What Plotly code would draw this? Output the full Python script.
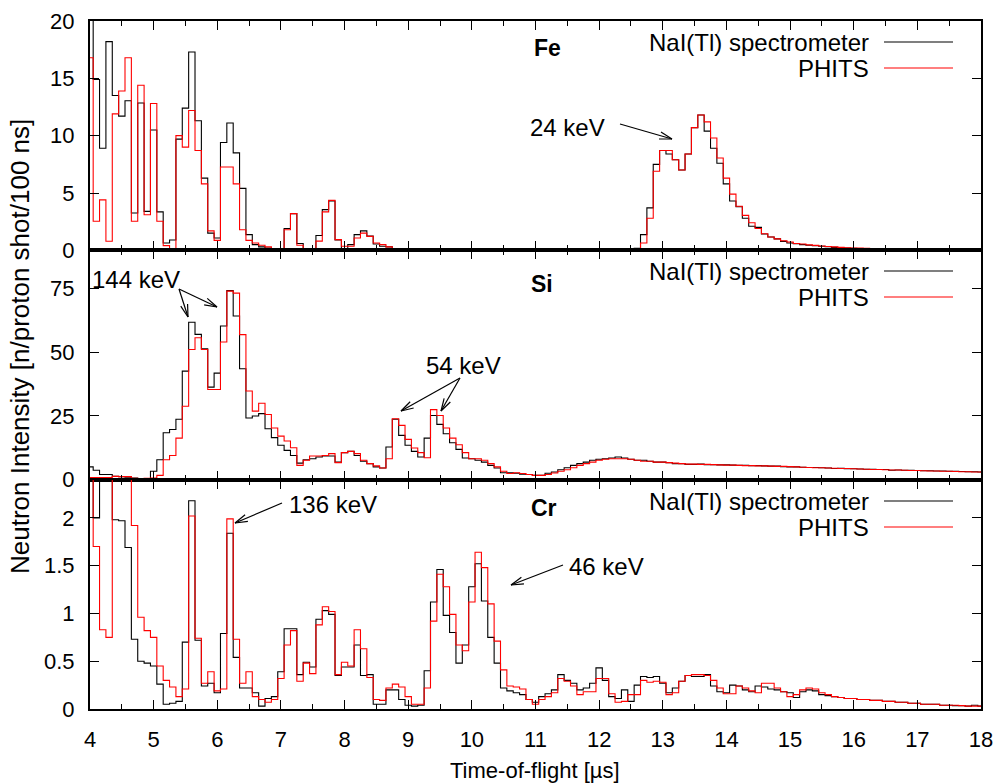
import math
import numpy as np
import plotly.graph_objects as go
from plotly.subplots import make_subplots

# bin centres (time-of-flight, microseconds), 100 ns bins
tof = np.round(np.arange(40, 181) / 10.0, 1)

fe_nai = [22, 14.9, 8.9, 18.2, 13.5, 11.7, 13.05, 3.26, 12.85, 3.4,
          10.5, 3.35, 0.64, 0.9, 9.7, 12.4, 17.3, 11.3, 6.3, 1.5,
          1.08, 9.4, 11.1, 8.5, 5.4, 1.37, 0.5, 0.3, 0.2, 0.12,
          0.05, 1.9, 3.2, 0.6, 0.1, 0.1, 1.3, 3.55, 4.3, 0.9,
          0.1, 0.5, 1.37, 1.7, 1.25, 0.55, 0.35, 0.3, 0.1, 0.08,
          0.05, 0.04, 0.05, 0.03, 0.04, 0.03, 0.03, 0.04, 0.03, 0.03,
          0.03, 0.02, 0.03, 0.02, 0.03, 0.02, 0.02, 0.03, 0.02, 0.02,
          0.03, 0.02, 0.02, 0.03, 0.03, 0.04, 0.03, 0.04, 0.05, 0.05,
          0.06, 0.08, 0.12, 0.08, 0.1, 0.12, 0.17, 1.37, 3.7, 7.5,
          8.7, 8.4, 7.9, 7.0, 8.4, 10.7, 11.8, 10.4, 8.9, 7.6,
          5.8, 4.3, 3.8, 2.8, 2.1, 2.0, 1.42, 1.16, 1.0, 0.78,
          0.64, 0.58, 0.5, 0.44, 0.4, 0.35, 0.32, 0.26, 0.23, 0.2,
          0.18, 0.16, 0.15, 0.13, 0.12, 0.12, 0.11, 0.1, 0.1, 0.09,
          0.09, 0.08, 0.08, 0.07, 0.07, 0.06, 0.06, 0.06, 0.05, 0.05,
          0.05]
fe_phits = [16.8, 2.53, 4.4, 0.79, 11.9, 13.9, 16.8, 2.53, 14.4, 3.1,
            12.8, 2.53, 0.41, 0.15, 10.0, 9.0, 12.2, 8.7, 5.8, 1.7,
            0.87, 7.27, 7.27, 5.8, 1.8, 0.87, 0.64, 0.44, 0.3, 0.1,
            0.08, 1.8, 3.2, 0.44, 0.1, 0.1, 0.8, 3.35, 4.36, 0.93,
            0.35, 0.35, 1.07, 1.5, 1.22, 0.64, 0.5, 0.3, 0.1, 0.08,
            0.05, 0.05, 0.04, 0.04, 0.03, 0.04, 0.03, 0.03, 0.03, 0.02,
            0.02, 0.03, 0.02, 0.02, 0.02, 0.03, 0.02, 0.02, 0.02, 0.02,
            0.02, 0.03, 0.02, 0.02, 0.03, 0.03, 0.03, 0.04, 0.04, 0.05,
            0.05, 0.06, 0.07, 0.08, 0.09, 0.1, 0.12, 0.64, 2.8, 6.9,
            8.7, 8.7, 7.9, 7.0, 8.4, 10.7, 11.8, 11.2, 9.8, 8.05,
            6.3, 4.9, 3.84, 3.05, 2.4, 1.9, 1.45, 1.16, 1.0, 0.84,
            0.73, 0.6, 0.55, 0.48, 0.43, 0.38, 0.34, 0.3, 0.26, 0.23,
            0.21, 0.19, 0.17, 0.15, 0.14, 0.13, 0.12, 0.11, 0.1, 0.1,
            0.09, 0.09, 0.08, 0.08, 0.07, 0.07, 0.06, 0.06, 0.06, 0.05,
            0.05]
si_nai = [5.0, 3.7, 2.0, 2.0, 1.3, 1.2, 1.0, 0.6, 0.4, 0.4,
          3.3, 7.8, 18.4, 19.7, 23.7, 42.6, 61.8, 57.0, 51.4, 36.3,
          41.8, 60.3, 74.2, 64.2, 43.5, 24.2, 25.0, 25.9, 20.0, 16.5,
          13.5, 11.5, 9.5, 6.5, 7.8, 8.2, 8.9, 9.3, 9.3, 6.9,
          10.6, 11.1, 9.5, 7.2, 6.3, 5.0, 4.6, 12.8, 23.7, 17.4,
          13.5, 11.1, 8.9, 16.3, 25.2, 21.7, 18.0, 14.5, 11.9, 8.5,
          8.2, 7.6, 6.9, 5.6, 4.6, 2.7, 2.7, 2.5, 2.1, 2.0,
          1.7, 1.7, 2.5, 3.0, 3.9, 4.7, 5.6, 6.3, 6.9, 7.6,
          8.0, 8.2, 8.5, 8.9, 8.5, 8.0, 7.6, 7.6, 7.2, 6.9,
          6.9, 6.7, 6.3, 6.3, 6.0, 6.0, 6.1, 5.9, 5.9, 5.8,
          5.8, 5.7, 5.6, 5.6, 5.5, 5.5, 5.4, 5.3, 5.3, 5.1,
          5.0, 5.0, 4.9, 4.8, 4.8, 4.7, 4.6, 4.4, 4.5, 4.3,
          4.3, 4.2, 4.1, 4.1, 4.0, 4.0, 3.7, 3.8, 3.7, 3.7,
          3.6, 3.5, 3.5, 3.4, 3.4, 3.3, 3.3, 3.2, 3.1, 3.1,
          3.0]
si_phits = [0.8, 0.8, 0.8, 0.8, 1.3, 1.2, 1.2, 0.5, 0.4, 0.5,
            0.65, 1.7, 7.8, 9.5, 16.3, 28.8, 51.1, 55.7, 51.1, 35.4,
            35.4, 54.0, 74.0, 73.2, 56.9, 34.8, 26.9, 30.0, 25.6, 20.3,
            17.1, 15.2, 12.5, 5.6, 7.6, 9.3, 9.3, 9.5, 10.2, 6.7,
            10.6, 11.1, 10.2, 7.6, 6.3, 5.4, 4.6, 8.2, 23.9, 21.3,
            15.8, 12.4, 10.6, 8.6, 27.5, 25.2, 20.3, 16.3, 13.7, 10.6,
            8.2, 8.2, 7.6, 6.3, 5.0, 3.3, 2.4, 2.7, 2.4, 2.0,
            1.7, 1.7, 2.0, 2.6, 3.3, 3.9, 4.7, 5.6, 6.3, 6.9,
            7.6, 8.0, 8.2, 8.2, 8.2, 8.0, 7.6, 7.2, 7.2, 6.9,
            6.9, 6.7, 6.5, 6.3, 6.1, 6.1, 6.0, 6.0, 5.9, 5.8,
            5.7, 5.7, 5.6, 5.5, 5.5, 5.4, 5.4, 5.3, 5.2, 5.2,
            5.1, 5.0, 4.9, 4.8, 4.7, 4.7, 4.6, 4.5, 4.4, 4.4,
            4.3, 4.2, 4.1, 4.0, 4.0, 3.9, 3.8, 3.8, 3.7, 3.6,
            3.6, 3.5, 3.4, 3.4, 3.3, 3.3, 3.2, 3.1, 3.1, 3.0,
            3.0]
cr_nai = [2.6, 2.0, 2.6, 2.6, 1.98, 1.97, 1.69, 0.73, 0.5, 0.48,
          0.45, 0.26, 0.05, 0.06, 0.08, 0.7, 2.18, 0.72, 0.24, 0.27,
          0.17, 0.79, 1.84, 0.54, 0.22, 0.22, 0.17, 0.03, 0.11, 0.13,
          0.39, 0.84, 0.84, 0.36, 0.49, 0.44, 0.94, 1.03, 0.99, 0.35,
          0.44, 0.44, 0.67, 0.35, 0.36, 0.05, 0.05, 0.2, 0.2, 0.1,
          0.04, 0.03, 0.04, 0.4, 1.12, 1.46, 0.98, 0.8, 0.48, 0.67,
          1.28, 1.52, 1.13, 0.75, 0.48, 0.22, 0.19, 0.17, 0.15, 0.1,
          0.07, 0.13, 0.16, 0.2, 0.36, 0.3, 0.27, 0.2, 0.22, 0.27,
          0.43, 0.3, 0.13, 0.11, 0.2, 0.08, 0.25, 0.34, 0.33, 0.34,
          0.27, 0.17, 0.22, 0.29, 0.35, 0.34, 0.34, 0.36, 0.24, 0.18,
          0.17, 0.25, 0.24, 0.2, 0.18, 0.24, 0.23, 0.21, 0.2, 0.18,
          0.17, 0.12, 0.18, 0.2, 0.19, 0.15, 0.14, 0.13, 0.12, 0.11,
          0.11, 0.1, 0.1, 0.09, 0.09, 0.08, 0.08, 0.07, 0.07, 0.06,
          0.06, 0.05, 0.05, 0.05, 0.04, 0.04, 0.035, 0.035, 0.03, 0.04,
          0.03]
cr_phits = [2.6, 1.7, 0.83, 0.75, 2.6, 2.6, 2.6, 1.92, 0.96, 0.82,
            0.75, 0.45, 0.3, 0.23, 0.13, 0.21, 2.02, 0.74, 0.27, 0.39,
            0.19, 0.21, 1.99, 0.73, 0.27, 0.39, 0.13, 0.1, 0.07, 0.1,
            0.32, 0.67, 0.82, 0.29, 0.48, 0.37, 0.88, 1.07, 1.02, 0.36,
            0.49, 0.45, 0.83, 0.63, 0.33, 0.1, 0.09, 0.22, 0.26, 0.23,
            0.13, 0.05, 0.05, 0.22, 0.92, 1.41, 1.28, 0.99, 0.67, 0.61,
            1.12, 1.64, 1.48, 1.1, 0.71, 0.41, 0.24, 0.23, 0.21, 0.1,
            0.05, 0.1, 0.13, 0.17, 0.32, 0.29, 0.24, 0.15, 0.18, 0.18,
            0.32, 0.32, 0.16, 0.07, 0.08, 0.15, 0.15, 0.3, 0.28, 0.29,
            0.28, 0.15, 0.17, 0.29, 0.35, 0.36, 0.36, 0.35, 0.3, 0.22,
            0.16, 0.16, 0.24, 0.22, 0.19, 0.17, 0.27, 0.27, 0.22, 0.18,
            0.13, 0.15, 0.2, 0.22, 0.21, 0.17, 0.15, 0.13, 0.12, 0.11,
            0.11, 0.1, 0.1, 0.09, 0.09, 0.08, 0.08, 0.07, 0.07, 0.06,
            0.06, 0.05, 0.05, 0.05, 0.04, 0.04, 0.04, 0.035, 0.03, 0.03,
            0.03]

panel_names = ["Fe", "Si", "Cr"]
series_names = ["NaI(Tl) spectrometer", "PHITS"]
y_ranges = [[0, 20], [0, 90], [0, 2.4]]
y_ticks = [[0, 5, 10, 15, 20], [0, 25, 50, 75], [0, 0.5, 1, 1.5, 2]]
y_ticktext = [["0", "5", "10", "15", "20"], ["0", "25", "50", "75"],
              ["0", "0.5", "1", "1.5", "2"]]
x_ticks = list(range(4, 19))

FONT = "Liberation Sans, Arial, Helvetica, sans-serif"
W, H = 998, 784
ML, MR, MT, MB = 90, 17, 21, 75
PW, PH = W - ML - MR, H - MT - MB


def P(px, py):
    return (px - ML) / PW, (H - MB - py) / PH


fig = make_subplots(rows=3, cols=1, shared_xaxes=True, vertical_spacing=0)
data = [(fe_nai, fe_phits), (si_nai, si_phits), (cr_nai, cr_phits)]
for i, (nai, phits) in enumerate(data):
    for vals, col, nm in ((nai, "black", series_names[0]),
                          (phits, "#ff0000", series_names[1])):
        fig.add_trace(go.Scatter(x=tof, y=vals, mode="lines", name=nm,
                                 line=dict(color=col, width=1.1, shape="hvh"),
                                 showlegend=False),
                      row=i + 1, col=1)

axis_common = dict(showline=True, linecolor="black", linewidth=2,
                   mirror="ticks", ticks="inside", ticklen=9, tickwidth=1,
                   tickcolor="black", showgrid=False, zeroline=False,
                   automargin=False,
                   tickfont=dict(family=FONT, size=22, color="black"))
for i in range(3):
    fig.update_xaxes(range=[4, 18], tickvals=x_ticks, ticktext=[str(v) for v in x_ticks],
                     minor=dict(dtick=0.5, tick0=4, ticks="inside", ticklen=5,
                                tickcolor="black", tickwidth=1),
                     ticklabelstandoff=10,
                     row=i + 1, col=1, **axis_common)
    fig.update_yaxes(range=y_ranges[i], tickvals=y_ticks[i], ticktext=y_ticktext[i],
                     ticklabelstandoff=9, row=i + 1, col=1, **axis_common)

shapes = []
annotations = []

# legends and panel labels
legend_rows = [(42, 68), (271, 297), (501, 527)]
label_pos = [(547, 48), (542, 284), (544, 508)]
for i in range(3):
    for j, (nm, col) in enumerate(zip(series_names, ["black", "#ff0000"])):
        yy = legend_rows[i][j]
        x0, y0 = P(884, yy)
        x1, _ = P(953, yy)
        shapes.append(dict(type="line", xref="paper", yref="paper", x0=x0, x1=x1,
                           y0=y0, y1=y0, line=dict(color=col, width=1.2)))
        tx, ty = P(870, yy)
        annotations.append(dict(text=nm, x=tx, y=ty, xref="paper", yref="paper",
                                xanchor="right", yanchor="middle", showarrow=False,
                                borderpad=0,
                                font=dict(family=FONT, size=24, color="black")))
    lx, ly = P(*label_pos[i])
    annotations.append(dict(text="<b>%s</b>" % panel_names[i], x=lx, y=ly,
                            xref="paper", yref="paper", xanchor="center",
                            yanchor="middle", showarrow=False,
                            font=dict(family=FONT, size=23, color="black")))

# energy labels with open-headed arrows
energy_labels = [("24 keV", (567, 127), [((620, 124), (672, 139))]),
                 ("144 keV", (136, 279), [((179, 289), (188, 317)),
                                          ((179, 289), (217, 307))]),
                 ("54 keV", (463, 365), [((460, 378), (401, 411)),
                                         ((460, 378), (441, 411))]),
                 ("136 keV", (333, 504), [((282, 503), (235, 523))]),
                 ("46 keV", (606, 566), [((563, 565), (511, 585))])]


def arrow(tail, tip, L=13, ang=16):
    (tx, ty), (hx, hy) = tail, tip
    dx, dy = tx - hx, ty - hy
    n = math.hypot(dx, dy)
    ux, uy = dx / n, dy / n
    out = []
    a0, b0 = P(tx, ty)
    a1, b1 = P(hx, hy)
    out.append(dict(type="line", xref="paper", yref="paper", x0=a0, y0=b0,
                    x1=a1, y1=b1, line=dict(color="black", width=1.2)))
    for s in (1, -1):
        c, sn = math.cos(math.radians(ang)), math.sin(math.radians(s * ang))
        bx = hx + L * (ux * c - uy * sn)
        by = hy + L * (ux * sn + uy * c)
        a2, b2 = P(bx, by)
        out.append(dict(type="line", xref="paper", yref="paper", x0=a1, y0=b1,
                        x1=a2, y1=b2, line=dict(color="black", width=1.2)))
    return out


for txt, (cx, cy), arrs in energy_labels:
    ax_, ay_ = P(cx, cy)
    annotations.append(dict(text=txt, x=ax_, y=ay_, xref="paper", yref="paper",
                            xanchor="center", yanchor="middle", showarrow=False,
                            font=dict(family=FONT, size=24, color="black")))
    for tail, tip in arrs:
        shapes.extend(arrow(tail, tip))

# axis titles
yx, yy = P(20, 347)
annotations.append(dict(text="Neutron Intensity [n/proton shot/100 ns]", x=yx, y=yy,
                        xref="paper", yref="paper", textangle=-90, xanchor="center",
                        yanchor="middle", showarrow=False,
                        font=dict(family=FONT, size=26, color="black")))
xx, xy = P(535, 770)
annotations.append(dict(text="Time-of-flight [\u00b5s]", x=xx, y=xy, xref="paper",
                        yref="paper", xanchor="center", yanchor="middle",
                        showarrow=False, font=dict(family=FONT, size=22, color="black")))

fig.update_layout(width=W, height=H, margin=dict(l=ML, r=MR, t=MT, b=MB),
                  paper_bgcolor="white", plot_bgcolor="white", showlegend=False,
                  font=dict(family=FONT, color="black"),
                  shapes=shapes, annotations=annotations)

fig.write_html("out.html")
